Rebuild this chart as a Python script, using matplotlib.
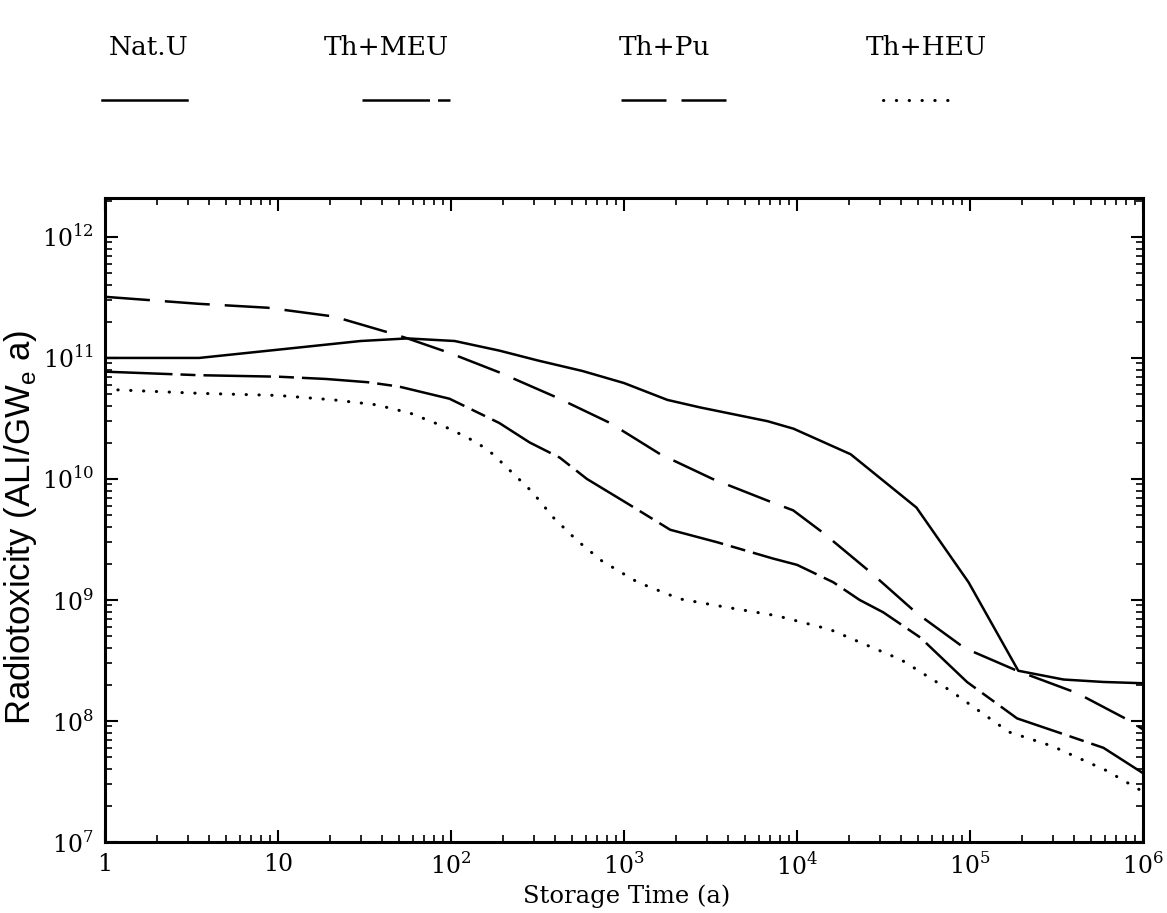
import matplotlib
matplotlib.use('Agg')
import matplotlib.pyplot as plt
from matplotlib.lines import Line2D
from matplotlib.ticker import LogLocator, FuncFormatter, NullFormatter
import numpy as np

plt.rcParams['font.family'] = ['DejaVu Serif']
plt.rcParams['mathtext.fontset'] = 'custom'
plt.rcParams['mathtext.rm'] = 'DejaVu Serif'
plt.rcParams['mathtext.sf'] = 'Liberation Sans'

# storage time (a) and radiotoxicity (ALI/GWe a)
t_natu = [1, 3.5, 10, 30, 56, 105, 190, 320, 575, 1000, 1780, 2750, 6760, 9550,
          20400, 49000, 98000, 190000, 347000, 590000, 1e6]
r_natu = [1.0e11, 1.0e11, 1.17e11, 1.38e11, 1.45e11, 1.38e11, 1.15e11, 9.5e10, 7.8e10,
          6.2e10, 4.5e10, 3.9e10, 3.0e10, 2.6e10, 1.6e10, 5.8e9, 1.4e9, 2.6e8, 2.2e8,
          2.1e8, 2.05e8]

t_meu = [1, 3.5, 10, 19, 33, 50, 98, 190, 285, 425, 610, 1040, 1850, 3450, 7250, 10000,
         16200, 23000, 31500, 51500, 96000, 187000, 345000, 590000, 1e6]
r_meu = [7.7e10, 7.2e10, 7.0e10, 6.7e10, 6.3e10, 5.8e10, 4.6e10, 2.9e10, 2.0e10, 1.5e10,
         1.0e10, 6.3e9, 3.8e9, 3.0e9, 2.2e9, 1.95e9, 1.4e9, 1.0e9, 7.9e8, 4.9e8, 2.1e8,
         1.05e8, 7.8e7, 6.0e7, 3.7e7]

t_pu = [1, 3.5, 8.7, 21, 45, 56, 98, 190, 410, 830, 1620, 3250, 6980, 9500, 14100,
        26500, 49000, 93000, 187000, 415000, 840000, 1e6]
r_pu = [3.2e11, 2.8e11, 2.6e11, 2.2e11, 1.6e11, 1.45e11, 1.1e11, 7.6e10, 4.7e10, 2.9e10,
        1.6e10, 1.0e10, 6.5e9, 5.5e9, 3.6e9, 1.7e9, 7.8e8, 4.0e8, 2.6e8, 1.7e8, 1.0e8,
        8.5e7]

t_heu = [1, 3.5, 10, 21, 37, 58, 98, 141, 175, 295, 390, 535, 745, 1200, 2100, 3730,
         7650, 15500, 40000, 76000, 168000, 298000, 612000, 1e6]
r_heu = [5.5e10, 5.1e10, 4.9e10, 4.5e10, 4.1e10, 3.5e10, 2.6e10, 2.0e10, 1.6e10, 7.8e9,
         4.8e9, 3.1e9, 2.1e9, 1.4e9, 1.02e9, 8.8e8, 7.4e8, 5.7e8, 3.2e8, 1.8e8, 8.1e7,
         6.2e7, 3.9e7, 2.6e7]

labels = ['Nat.U', 'Th+MEU', 'Th+Pu', 'Th+HEU']
x_decades = [0, 1, 2, 3, 4, 5, 6]
y_decades = [7, 8, 9, 10, 11, 12]

lw = 1.8
styles = [
    dict(linestyle='-'),
    dict(linestyle=(0, (27, 3.2, 6, 3.2))),
    dict(linestyle=(0, (18, 6))),
    dict(linestyle=(0, (0.1, 4.1)), dash_capstyle='round', linewidth=2.2),
]

fig = plt.figure(figsize=(11.67, 9.13), dpi=100)
ax = fig.add_axes([0.090, 0.0778, 0.8895, 0.7054])

series = [(t_natu, r_natu), (t_meu, r_meu), (t_pu, r_pu), (t_heu, r_heu)]
for (t, r), st in zip(series, styles):
    kw = dict(color='black', linewidth=lw)
    kw.update(st)
    ax.plot(t, r, **kw)

ax.set_xscale('log')
ax.set_yscale('log')
ax.set_xlim(1, 1e6)
ax.set_ylim(1e7, 2.1e12)

def xfmt(v, pos):
    e = int(round(np.log10(v)))
    if e == 0:
        return '1'
    if e == 1:
        return '10'
    return r'$10^{%d}$' % e

def yfmt(v, pos):
    e = int(round(np.log10(v)))
    return r'$10^{%d}$' % e

ax.set_xticks([10.0 ** e for e in x_decades])
ax.set_yticks([10.0 ** e for e in y_decades])
ax.xaxis.set_minor_locator(LogLocator(base=10, subs=np.arange(2, 10), numticks=20))
ax.yaxis.set_minor_locator(LogLocator(base=10, subs=np.arange(2, 10), numticks=20))
ax.xaxis.set_major_formatter(FuncFormatter(xfmt))
ax.yaxis.set_major_formatter(FuncFormatter(yfmt))
ax.xaxis.set_minor_formatter(NullFormatter())
ax.yaxis.set_minor_formatter(NullFormatter())

ax.tick_params(which='both', direction='in', top=True, right=True, labelsize=17,
               colors='black')
ax.tick_params(which='major', length=9, width=1.5, pad=8)
ax.tick_params(which='minor', length=5, width=1.2)
for s in ax.spines.values():
    s.set_linewidth(2.2)

ax.set_xlabel('Storage Time (a)', fontsize=17.5)
ax.xaxis.set_label_coords(0.502, -0.066)
ax.set_ylabel('Radiotoxicity (ALI/GW$_\\mathsf{e}$ a)', fontsize=25,
              family='Liberation Sans')
ax.yaxis.set_label_coords(-0.064, 0.488)

# legend above the plot: name on top, line sample below
name_x = [0.127, 0.331, 0.569, 0.794]
sample_x = [(0.087, 0.160), (0.310, 0.386), (0.532, 0.624), (0.757, 0.823)]
for name, nx, (x0, x1), st in zip(labels, name_x, sample_x, styles):
    fig.text(nx, 0.948, name, ha='center', va='center', fontsize=19)
    kw = dict(color='black', linewidth=lw)
    kw.update(st)
    fig.add_artist(Line2D([x0, x1], [0.891, 0.891], transform=fig.transFigure, **kw))

fig.savefig('out.png', dpi=100)
